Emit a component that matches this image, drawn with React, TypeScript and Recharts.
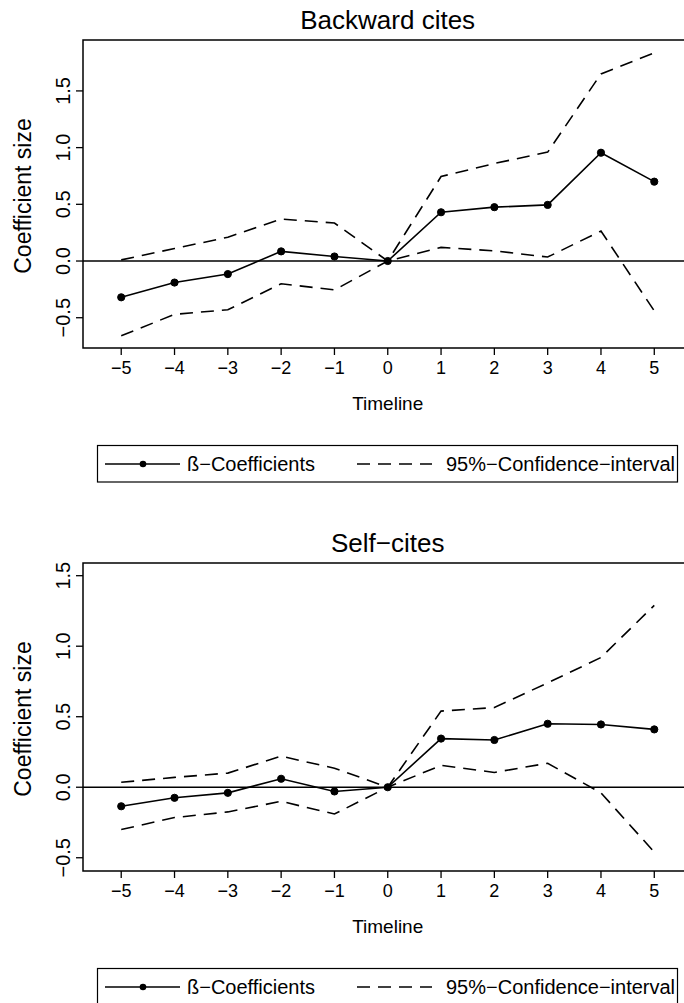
import React from 'react';
import { LineChart, Line, XAxis, YAxis, ReferenceLine, ReferenceArea } from 'recharts';

// event time (years relative to treatment)
const timeline = [-5, -4, -3, -2, -1, 0, 1, 2, 3, 4, 5];
const yTicks = [-0.5, 0, 0.5, 1, 1.5];

// Backward cites
const backwardBeta = [-0.32, -0.19, -0.115, 0.085, 0.04, 0, 0.43, 0.475, 0.495, 0.955, 0.7];
const backwardUpper = [0.01, 0.11, 0.21, 0.37, 0.335, 0, 0.745, 0.86, 0.96, 1.65, 1.835];
const backwardLower = [-0.66, -0.47, -0.43, -0.2, -0.255, 0, 0.12, 0.09, 0.035, 0.265, -0.44];

// Self-cites
const selfBeta = [-0.135, -0.075, -0.04, 0.06, -0.03, 0, 0.345, 0.335, 0.45, 0.445, 0.41];
const selfUpper = [0.035, 0.07, 0.1, 0.22, 0.135, 0, 0.54, 0.565, 0.74, 0.92, 1.29];
const selfLower = [-0.3, -0.215, -0.175, -0.1, -0.19, 0, 0.155, 0.105, 0.17, -0.04, -0.46];

const FONT = '"Liberation Sans", Arial, Helvetica, sans-serif';
const X_DOMAIN: [number, number] = [-5.717, 5.717];
const DASH = '13 8';
const LW = 1.6;

const minus = (s: string) => s.replace('-', '\u2212');

const XTick = (props: any) => {
    const { x, y, payload } = props;
    return (
        <text x={x} y={y + 19} textAnchor="middle" fontSize={18} fill="#000" fontFamily={FONT}>
            {minus(String(payload.value))}
        </text>
    );
};

const YTick = (props: any) => {
    const { x, y, payload } = props;
    const bx = x - 6;
    return (
        <text
            x={bx}
            y={y}
            transform={`rotate(-90, ${bx}, ${y})`}
            textAnchor="middle"
            fontSize={20}
            fill="#000"
            fontFamily={FONT}
        >
            {minus(Number(payload.value).toFixed(1))}
        </text>
    );
};

type PanelProps = {
    title: string;
    beta: number[];
    upper: number[];
    lower: number[];
    yDomain: [number, number];
    top: number;
};

const Panel: React.FC<PanelProps> = ({ title, beta, upper, lower, yDomain, top }) => {
    const rows = timeline.map((t, i) => ({ t, beta: beta[i], upper: upper[i], lower: lower[i] }));
    const cx = 387.7;

    return (
        <div style={{ position: 'absolute', left: 0, top, width: 694, height: 520 }}>
            <LineChart width={694} height={520} data={rows} margin={{ top: 40, right: 1.5, bottom: 102, left: 0 }}>
                <XAxis
                    dataKey="t"
                    type="number"
                    domain={X_DOMAIN}
                    ticks={timeline}
                    interval={0}
                    height={70}
                    axisLine={false}
                    tickSize={7}
                    tickMargin={0}
                    tickLine={{ stroke: '#000', strokeWidth: 1.3 }}
                    tick={<XTick />}
                    allowDataOverflow
                />
                <YAxis
                    type="number"
                    domain={yDomain}
                    ticks={yTicks}
                    interval={0}
                    width={83}
                    axisLine={false}
                    tickSize={7}
                    tickMargin={0}
                    tickLine={{ stroke: '#000', strokeWidth: 1.3 }}
                    tick={<YTick />}
                    allowDataOverflow
                />
                <ReferenceArea
                    x1={X_DOMAIN[0]}
                    x2={X_DOMAIN[1]}
                    y1={yDomain[0]}
                    y2={yDomain[1]}
                    fill="none"
                    fillOpacity={0}
                    stroke="#000"
                    strokeWidth={1.5}
                    ifOverflow="visible"
                />
                <ReferenceLine y={0} stroke="#000" strokeWidth={LW} />
                <Line type="linear" dataKey="upper" stroke="#000" strokeWidth={LW} strokeDasharray={DASH} dot={false} isAnimationActive={false} />
                <Line type="linear" dataKey="lower" stroke="#000" strokeWidth={LW} strokeDasharray={DASH} dot={false} isAnimationActive={false} />
                <Line
                    type="linear"
                    dataKey="beta"
                    stroke="#000"
                    strokeWidth={LW}
                    dot={{ r: 3.6, fill: '#000', stroke: '#000', strokeWidth: 1 }}
                    isAnimationActive={false}
                />
            </LineChart>
            <svg
                width={694}
                height={520}
                style={{ position: 'absolute', left: 0, top: 0, pointerEvents: 'none' }}
                fontFamily={FONT}
            >
                <text x={cx} y={28.5} textAnchor="middle" fontSize={26} fill="#000">{title}</text>
                <text x={cx} y={410} textAnchor="middle" fontSize={19} fill="#000">Timeline</text>
                <text x={31} y={196} transform="rotate(-90, 31, 196)" textAnchor="middle" fontSize={23} fill="#000">
                    Coefficient size
                </text>
                <rect x={97.5} y={445.5} width={580} height={36.5} fill="none" stroke="#000" strokeWidth={1.2} />
                <line x1={105} y1={464} x2={180} y2={464} stroke="#000" strokeWidth={LW} />
                <circle cx={143} cy={464} r={3.3} fill="#000" />
                <text x={187} y={471} fontSize={20} fill="#000">ß−Coefficients</text>
                <line x1={357} y1={464} x2={432} y2={464} stroke="#000" strokeWidth={LW} strokeDasharray={DASH} />
                <text x={446} y={471} fontSize={20} fill="#000">95%−Confidence−interval</text>
            </svg>
        </div>
    );
};

export default function App() {
    return (
        <div
            style={{
                position: 'absolute',
                left: 0,
                top: 0,
                width: 684,
                height: 1003,
                overflow: 'hidden',
                background: '#fff',
                fontFamily: FONT,
            }}
        >
            <Panel
                title="Backward cites"
                beta={backwardBeta}
                upper={backwardUpper}
                lower={backwardLower}
                yDomain={[-0.767, 1.949]}
                top={0}
            />
            <Panel
                title="Self−cites"
                beta={selfBeta}
                upper={selfUpper}
                lower={selfLower}
                yDomain={[-0.594, 1.59]}
                top={523}
            />
        </div>
    );
}
